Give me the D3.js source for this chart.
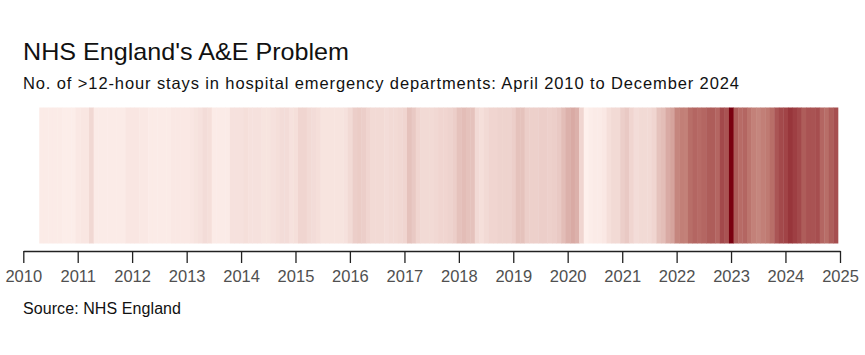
<!DOCTYPE html>
<html>
<head>
<meta charset="utf-8">
<script src="https://cdn.jsdelivr.net/npm/d3@7"></script>
<style>
  html, body { margin: 0; padding: 0; background: #ffffff; }
  svg { display: block; }
  text { font-family: "Liberation Sans", Arial, sans-serif; }
</style>
</head>
<body>
<svg id="chart" width="865" height="355"></svg>
<script>
// Monthly >12-hour stays, April 2010 .. November 2024
const startYear = 2010, startMonth = 4; // April 2010
const values2010 = [1650,1650,1650,1650,1650,1100,1100,1100,2200];
const values2011 = [2750,2750,6050,1650,1650,1650,1650,1650,1650,1650,2750,2750];
const values2012 = [2750,2200,2200,1650,1650,1650,1650,1650,2200,2200,2200,2200];
const values2013 = [2750,3300,3850,4950,4400,1650,1650,1650,1650,3850,3850,3850];
const values2014 = [4400,3850,3850,3850,3300,3300,3850,4400,4950,4950,3850,4400];
const values2015 = [6600,6600,5500,4950,4400,3300,3300,3300,3300,3300,3850,5500];
const values2016 = [8250,8800,8250,6600,5500,5500,5500,4950,5500,5500,6050,6600];
const values2017 = [11000,9350,6600,5500,5500,5500,6050,6600,6600,7150,8250,11000];
const values2018 = [12100,11000,11000,5500,4400,5500,6600,6600,7150,7150,7150,8250];
const values2019 = [11000,11000,8250,7700,7700,8250,8250,7700,8250,9350,12100,14850];
const values2020 = [16500,14850,6600,550,1100,1650,1650,2200,4400,5500,5500,8250];
const values2021 = [9350,6600,4950,5500,5500,5500,6600,11000,12100,16500,18150,24750];
const values2022 = [26400,25850,30250,31900,30800,31900,34100,34100,31900,38500,36300,55000];
const values2023 = [34100,30800,31900,28600,25850,24750,26400,27500,30250,35750,38500,39600];
const values2024 = [42900,40700,38500,34100,36300,36300,37400,31900,30250,34100,37400];

const tickYears = [2010,2011,2012,2013,2014,2015,2016,2017,2018,2019,2020,2021,2022,2023,2024,2025];

const titleText = "NHS England's A&E Problem";
const subtitleText = "No. of >12-hour stays in hospital emergency departments: April 2010 to December 2024";
const sourceText = "Source: NHS England";

const allValues = [].concat(values2010, values2011, values2012, values2013, values2014,
  values2015, values2016, values2017, values2018, values2019, values2020, values2021,
  values2022, values2023, values2024);

const data = allValues.map((v, i) => {
  const start = new Date(startYear, startMonth - 1 + i, 1);
  return { month: start, value: v };
});

const svg = d3.select("#chart");

const x = d3.scaleTime()
  .domain([new Date(2010, 0, 1), new Date(2025, 0, 1)])
  .range([23.3, 840]);

const color = d3.scaleLinear()
  .domain([0, 27500, 55000])
  .range(["#fff2ee", "#bf7a72", "#7a0010"]);

const stripeTop = 107.5, stripeBottom = 243.5;

// Each month's stripe is centred on the month's last day
svg.append("g")
  .selectAll("rect")
  .data(data)
  .join("rect")
  .attr("x", d => x(d3.timeDay.offset(d.month, 17)))
  .attr("width", d => x(d3.timeDay.offset(d3.timeMonth.offset(d.month, 1), 17)) - x(d3.timeDay.offset(d.month, 17)) + 0.4)
  .attr("y", stripeTop)
  .attr("height", stripeBottom - stripeTop)
  .attr("fill", d => color(d.value));

const axis = d3.axisBottom(x)
  .tickValues(tickYears.map(y => new Date(y, 0, 1)))
  .tickFormat(d3.timeFormat("%Y"))
  .tickSize(12)
  .tickSizeOuter(0)
  .tickPadding(7);

const gAxis = svg.append("g")
  .attr("transform", "translate(0,251)")
  .call(axis);
gAxis.select(".domain").attr("stroke", "#222").attr("stroke-width", 1.3);
gAxis.selectAll(".tick line").attr("stroke", "#222").attr("stroke-width", 1.3);
gAxis.selectAll(".tick text")
  .attr("fill", "#505050")
  .style("font-size", "16.5px")
  .style("font-family", "'Liberation Sans', Arial, sans-serif");

svg.append("text")
  .attr("x", 23).attr("y", 60)
  .attr("fill", "#111")
  .attr("textLength", 326)
  .attr("lengthAdjust", "spacingAndGlyphs")
  .style("font-size", "24px")
  .text(titleText);

svg.append("text")
  .attr("x", 23).attr("y", 89)
  .attr("fill", "#111")
  .attr("textLength", 716)
  .attr("lengthAdjust", "spacing")
  .style("font-size", "16.5px")
  .text(subtitleText);

svg.append("text")
  .attr("x", 23).attr("y", 314)
  .attr("fill", "#111")
  .attr("textLength", 158)
  .attr("lengthAdjust", "spacing")
  .style("font-size", "16px")
  .text(sourceText);
</script>
</body>
</html>
